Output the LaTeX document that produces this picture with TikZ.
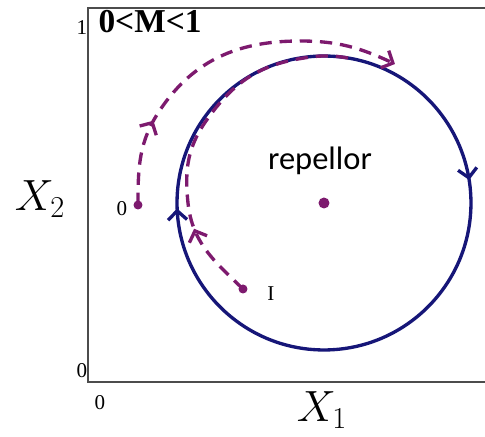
\documentclass[tikz,border=0pt]{standalone}
\usepackage{fontspec}
\setmainfont{Liberation Serif}
\newfontfamily\calibri{Carlito}
\usetikzlibrary{arrows.meta,decorations.markings}
\definecolor{cycblue}{RGB}{22,22,120}
\definecolor{trajpurple}{RGB}{125,26,110}
\tikzset{
  traj/.style={trajpurple,line width=1.9pt,dash pattern=on 7pt off 4.5pt},
  midarrow/.style={postaction={decorate,decoration={markings,
    mark=at position #1 with {\arrow{Straight Barb[length=1.8mm,width=3.8mm]}}}}},
  dot/.style={circle,fill=trajpurple,inner sep=0pt,minimum size=#1},
}
\begin{document}
\begin{tikzpicture}[x=0.02cm,y=0.02cm,line width=1.0pt]
\clip (0,0) rectangle (485,437);
% 坐标框
\draw[line width=0.9pt,black!70] (495,429) -- (88,429) -- (88,55) -- (495,55);
\node[font=\fontsize{12}{12}\selectfont] (y1) at (82,409) {1};
\node[font=\fontsize{12}{12}\selectfont] (y0) at (82,66) {0};
\node[font=\fontsize{12}{12}\selectfont] (x0) at (100,34) {0};
\node[font=\fontsize{24}{24}\selectfont] (x2lab) at (40,238) {$X_2$};
\node[font=\fontsize{24}{24}\selectfont] (x1lab) at (322,27) {$X_1$};
\node[font=\bfseries\fontsize{19}{19}\selectfont] (mlab) at (150,415) {0<M<1};
% 不动点（排斥子）
\node[dot=2.2mm] (rep) at (324,234) {};
\node[font=\calibri\fontsize{18.5}{18.5}\selectfont] (replab) at (320,276) {repellor};
% 极限环（顺时针）
\draw[cycblue,line width=1.9pt,midarrow=0.225,midarrow=0.744]
  (rep) ++(90:2.94cm) arc[start angle=90,end angle=-270,radius=2.94cm];
% 初始点
\node[dot=1.8mm] (O) at (138,232) {};
\node[font=\fontsize{12}{12}\selectfont] (Olab) at (122,228) {0};
\node[dot=1.8mm] (I) at (243,148) {};
\node[font=\fontsize{12}{12}\selectfont] (Ilab) at (271,143) {I};
% 外侧轨线
\coordinate (o1) at (160,327);
\coordinate (o2) at (300,396);
\coordinate (o3) at (395,373);
\draw[traj,midarrow=0.24,-{Straight Barb[length=1.8mm,width=3.8mm]}]
  (O.center) to[out=90,in=-124] (o1) to[out=56,in=180] (o2) to[out=0,in=155] (o3);
% 内侧轨线
\coordinate (i1) at (188,234);
\coordinate (i2) at (206,316);
\coordinate (i3) at (298,378);
\coordinate (i4) at (348,379);
\draw[traj,midarrow=0.22]
  (I.center) to[out=136,in=-84] (i1) to[out=96,in=-125] (i2)
  to[out=55,in=-170] (i3) to[out=10,in=170] (i4);
\end{tikzpicture}
\end{document}
